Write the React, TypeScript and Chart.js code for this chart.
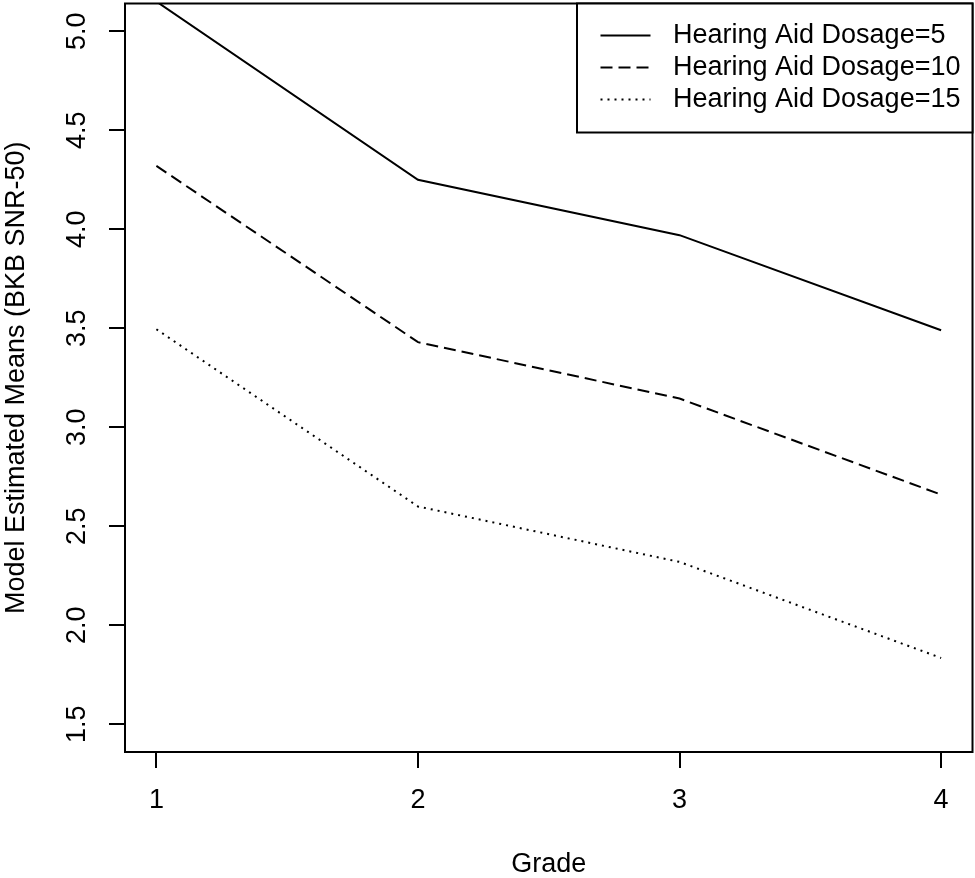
import { useEffect, useRef } from 'react';
import { Chart, registerables } from 'chart.js';
Chart.register(...registerables);

const FONT = '"Liberation Sans", Arial, Helvetica, sans-serif';
const FS = 27;

const GRADES = [1, 2, 3, 4];
const DOSE_5 = [5.15, 4.25, 3.97, 3.49];
const DOSE_10 = [4.32, 3.43, 3.145, 2.66];
const DOSE_15 = [3.495, 2.6, 2.32, 1.835];
const SERIES_LABELS = ['Hearing Aid Dosage=5', 'Hearing Aid Dosage=10', 'Hearing Aid Dosage=15'];
const Y_TICKS = [1.5, 2.0, 2.5, 3.0, 3.5, 4.0, 4.5, 5.0];
const X_TICKS = [1, 2, 3, 4];

const DASHES: number[][] = [[], [12, 6], [2, 5]];

// box round the plot region + R-style legend in the top right corner
const framePlugin = {
  id: 'frame',
  afterDatasetsDraw(chart: any) {
    const { ctx, chartArea: a } = chart;
    ctx.save();
    ctx.strokeStyle = '#000';
    ctx.lineWidth = 2;
    ctx.setLineDash([]);
    ctx.strokeRect(a.left, a.top, a.right - a.left, a.bottom - a.top);

    const right = a.right;
    const top = a.top;
    const boxLeft = right - 395.5;
    const boxBottom = top + 129;
    ctx.fillStyle = '#fff';
    ctx.fillRect(boxLeft, top, right - boxLeft, boxBottom - top);
    ctx.strokeRect(boxLeft, top, right - boxLeft, boxBottom - top);

    ctx.font = `${FS}px ${FONT}`;
    ctx.textBaseline = 'middle';
    ctx.textAlign = 'left';
    chart.data.datasets.forEach((ds: any, i: number) => {
      const y = top + 32 + i * 32;
      ctx.setLineDash(ds.borderDash || []);
      ctx.beginPath();
      ctx.moveTo(right - 372, y);
      ctx.lineTo(right - 322, y);
      ctx.stroke();
      ctx.setLineDash([]);
      ctx.fillStyle = '#000';
      ctx.fillText(ds.label, right - 299.5, y);
    });
    ctx.restore();
  },
};

export default function App() {
  const canvasRef = useRef<HTMLCanvasElement>(null);

  useEffect(() => {
    document.body.style.margin = '0';
    if (!canvasRef.current) return;
    const series = [DOSE_5, DOSE_10, DOSE_15];
    const chart = new Chart(canvasRef.current, {
      type: 'line',
      data: {
        datasets: series.map((vals, i) => ({
          label: SERIES_LABELS[i],
          data: vals.map((v, j) => ({ x: GRADES[j], y: v })),
          borderColor: '#000',
          borderWidth: 2,
          borderDash: DASHES[i],
          pointRadius: 0,
          tension: 0,
          fill: false,
        })),
      },
      options: {
        animation: false,
        responsive: false,
        devicePixelRatio: 1,
        layout: { padding: { top: 3.5, right: 2.5, left: 0, bottom: 0 } },
        plugins: { legend: { display: false }, tooltip: { enabled: false } },
        scales: {
          x: {
            type: 'linear',
            min: 0.88,
            max: 4.12,
            afterBuildTicks: (s: any) => { s.ticks = X_TICKS.map(v => ({ value: v })); },
            afterFit: (s: any) => { s.height = 126; s.paddingLeft = 0; s.paddingRight = 0; },
            grid: { drawOnChartArea: false, drawTicks: true, tickLength: 16, lineWidth: 2, color: '#000' },
            border: { display: false },
            ticks: {
              color: '#000',
              padding: 19.5,
              maxRotation: 0,
              font: { family: FONT, size: FS, lineHeight: 1 },
              callback: (v: any) => String(v),
            },
            title: {
              display: true,
              text: 'Grade',
              color: '#000',
              padding: 0,
              font: { family: FONT, size: FS, lineHeight: 1 },
            },
          },
          y: {
            type: 'linear',
            min: 1.36,
            max: 5.14,
            afterBuildTicks: (s: any) => { s.ticks = Y_TICKS.map(v => ({ value: v })); },
            afterFit: (s: any) => { s.width = 125; s.paddingTop = 0; s.paddingBottom = 0; },
            grid: { drawOnChartArea: false, drawTicks: true, tickLength: 16, lineWidth: 2, color: '#000' },
            border: { display: false },
            ticks: {
              color: '#000',
              padding: 12.7,
              minRotation: 90,
              maxRotation: 90,
              crossAlign: 'center',
              font: { family: FONT, size: FS, lineHeight: 1 },
              callback: (v: any) => Number(v).toFixed(1),
            },
            title: {
              display: true,
              text: 'Model Estimated Means (BKB SNR-50)',
              color: '#000',
              padding: { top: 3, bottom: 0 },
              font: { family: FONT, size: FS, lineHeight: 1 },
            },
          },
        },
      },
      plugins: [framePlugin],
    });
    return () => chart.destroy();
  }, []);

  return (
    <div style={{ width: 975, height: 878, background: '#fff' }}>
      <canvas ref={canvasRef} width={975} height={878} />
    </div>
  );
}
